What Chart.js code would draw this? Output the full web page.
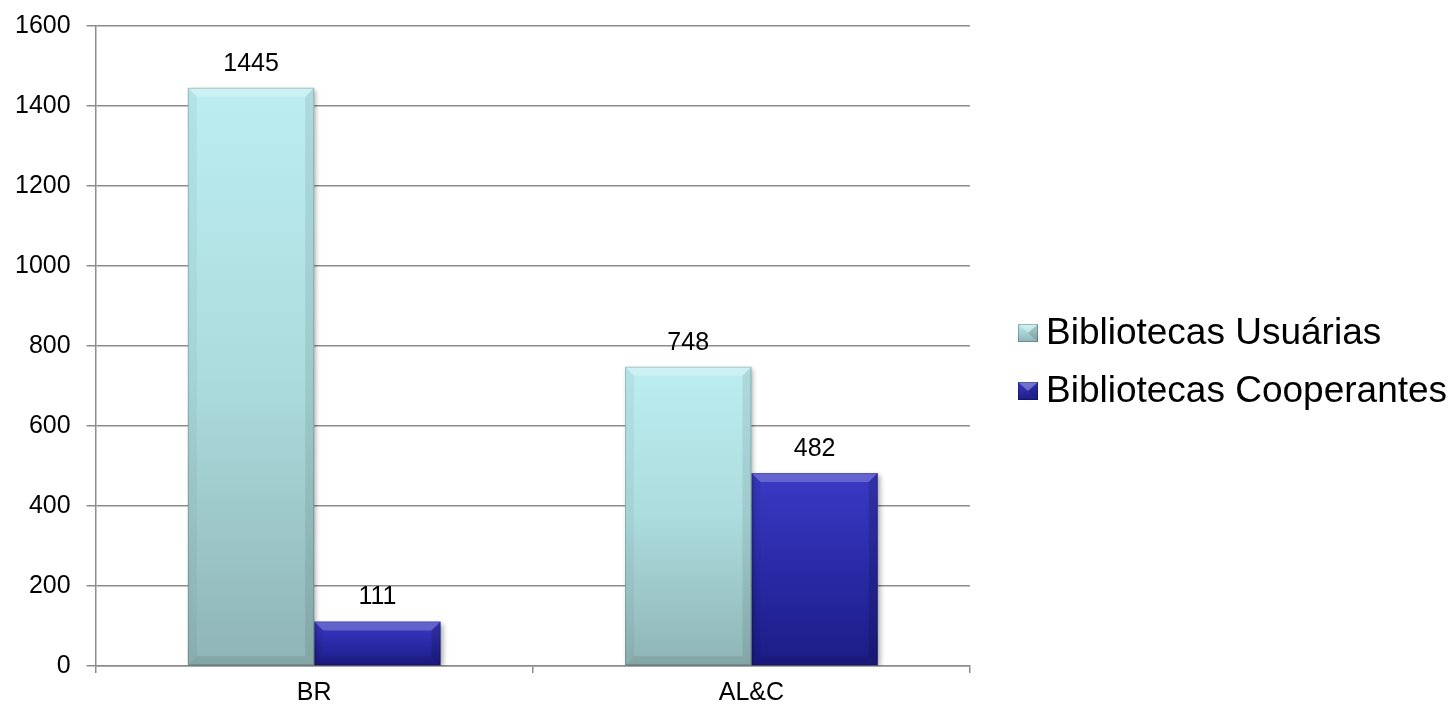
<!DOCTYPE html>
<html>
<head>
<meta charset="utf-8">
<script src="https://cdn.jsdelivr.net/npm/chart.js@4.4.1/dist/chart.umd.min.js"></script>
<style>
  html, body { margin: 0; padding: 0; background: #ffffff; }
  #wrap { width: 1456px; height: 709px; position: relative; }
</style>
</head>
<body>
<div id="wrap"><canvas id="c"></canvas></div>
<script>
// ---- data ----
const categories = ['BR', 'AL&C'];
const seriesNames = ['Bibliotecas Usuárias', 'Bibliotecas Cooperantes'];
const usuarias = [1445, 748];
const cooperantes = [111, 482];
const yTickMin = 0;
const yTickMax = 1600;
const yTickStep = 200;

// ---- styles ----
const FONT = '"Liberation Sans", Arial, sans-serif';
const GRID = '#8c8c8c';
const palettes = [
  { top: '#bcedf0', mid: '#acdcde', bottom: '#8fb4b5' },
  { top: '#3a3ac4', mid: '#2a2aa8', bottom: '#1c1c86' }
];

function barGradient(ctx, pal) {
  const chart = ctx.chart;
  const yScale = chart.scales.y;
  if (!yScale || ctx.raw === undefined) return pal.mid;
  const top = yScale.getPixelForValue(ctx.raw);
  const bottom = yScale.getPixelForValue(0);
  if (!isFinite(top) || !isFinite(bottom) || top === bottom) return pal.mid;
  const g = chart.ctx.createLinearGradient(0, top, 0, bottom);
  g.addColorStop(0, pal.top);
  g.addColorStop(0.5, pal.mid);
  g.addColorStop(1, pal.bottom);
  return g;
}

const shadowPlugin = {
  id: 'barShadow',
  beforeDatasetDraw(chart) {
    const c = chart.ctx;
    c.save();
    c.shadowColor = 'rgba(0,0,0,0.35)';
    c.shadowBlur = 5;
    c.shadowOffsetX = 2;
    c.shadowOffsetY = 2;
  },
  afterDatasetDraw(chart) {
    chart.ctx.restore();
  }
};

const bevelPlugin = {
  id: 'bevel',
  afterDatasetsDraw(chart) {
    const c = chart.ctx;
    chart.data.datasets.forEach((ds, di) => {
      const meta = chart.getDatasetMeta(di);
      const strong = di === 1;
      meta.data.forEach((el) => {
        const p = el.getProps(['x', 'y', 'base', 'width'], true);
        const l = p.x - p.width / 2, r = p.x + p.width / 2;
        const t = Math.min(p.y, p.base), b = Math.max(p.y, p.base);
        const s = Math.min(9, (b - t) / 2, p.width / 2);
        c.save();
        c.fillStyle = strong ? 'rgba(255,255,255,0.22)' : 'rgba(255,255,255,0.25)';
        c.beginPath();
        c.moveTo(l, t); c.lineTo(r, t); c.lineTo(r - s, t + s); c.lineTo(l + s, t + s); c.closePath();
        c.fill();
        c.fillStyle = 'rgba(0,0,0,0.04)';
        c.beginPath();
        c.moveTo(l, t); c.lineTo(l + s, t + s); c.lineTo(l + s, b - s); c.lineTo(l, b); c.closePath();
        c.fill();
        c.fillStyle = strong ? 'rgba(0,0,0,0.14)' : 'rgba(0,0,0,0.08)';
        c.beginPath();
        c.moveTo(r, t); c.lineTo(r - s, t + s); c.lineTo(r - s, b - s); c.lineTo(r, b); c.closePath();
        c.fill();
        c.fillStyle = 'rgba(0,0,0,0.08)';
        c.beginPath();
        c.moveTo(l, b); c.lineTo(l + s, b - s); c.lineTo(r - s, b - s); c.lineTo(r, b); c.closePath();
        c.fill();
        c.strokeStyle = 'rgba(0,0,0,0.18)';
        c.lineWidth = 1;
        c.strokeRect(l + 0.5, t + 0.5, p.width - 1, b - t - 1);
        c.restore();
      });
    });
  }
};

const labelPlugin = {
  id: 'valueLabels',
  afterDatasetsDraw(chart) {
    const c = chart.ctx;
    c.save();
    c.font = '25px ' + FONT;
    c.fillStyle = '#000000';
    c.textAlign = 'center';
    c.textBaseline = 'middle';
    chart.data.datasets.forEach((ds, di) => {
      const meta = chart.getDatasetMeta(di);
      meta.data.forEach((el, i) => {
        const p = el.getProps(['x', 'y'], true);
        c.fillText(String(ds.data[i]), p.x, p.y - 24);
      });
    });
    c.restore();
  }
};

const legendPlugin = {
  id: 'sideLegend',
  afterDraw(chart) {
    const c = chart.ctx;
    const area = chart.chartArea;
    const boxX = area.right + 48;
    const textX = boxX + 28;
    const centers = [333, 391];
    c.save();
    c.font = '37px ' + FONT;
    c.textAlign = 'left';
    c.textBaseline = 'middle';
    seriesNames.forEach((name, i) => {
      const cy = centers[i];
      const pal = palettes[i];
      const bw = 20, bh = 18;
      const bx = boxX, by = cy - bh / 2;
      const g = c.createLinearGradient(0, by, 0, by + bh);
      g.addColorStop(0, pal.top);
      g.addColorStop(1, pal.bottom);
      c.fillStyle = g;
      c.fillRect(bx, by, bw, bh);
      c.fillStyle = 'rgba(255,255,255,0.3)';
      c.beginPath();
      c.moveTo(bx, by); c.lineTo(bx + bw, by); c.lineTo(bx + bw / 2, by + bh / 2); c.closePath();
      c.fill();
      c.fillStyle = 'rgba(0,0,0,0.12)';
      c.beginPath();
      c.moveTo(bx + bw, by); c.lineTo(bx + bw, by + bh); c.lineTo(bx + bw / 2, by + bh / 2); c.closePath();
      c.fill();
      c.strokeStyle = 'rgba(0,0,0,0.25)';
      c.lineWidth = 1;
      c.strokeRect(bx + 0.5, by + 0.5, bw - 1, bh - 1);
      c.fillStyle = '#000000';
      c.fillText(name, textX, cy + 1);
    });
    c.restore();
  }
};

const yTickValues = [];
for (let v = yTickMin; v <= yTickMax; v += yTickStep) yTickValues.push(v);

new Chart(document.getElementById('c'), {
  type: 'bar',
  data: {
    labels: categories,
    datasets: [
      {
        label: seriesNames[0],
        data: usuarias,
        backgroundColor: (ctx) => barGradient(ctx, palettes[0]),
        borderWidth: 0,
        categoryPercentage: 0.578,
        barPercentage: 1.0
      },
      {
        label: seriesNames[1],
        data: cooperantes,
        backgroundColor: (ctx) => barGradient(ctx, palettes[1]),
        borderWidth: 0,
        categoryPercentage: 0.578,
        barPercentage: 1.0
      }
    ]
  },
  options: {
    responsive: true,
    maintainAspectRatio: false,
    animation: false,
    devicePixelRatio: 1,
    layout: { padding: { left: -1, right: 486, top: 0, bottom: -4 } },
    plugins: {
      legend: { display: false },
      tooltip: { enabled: false }
    },
    scales: {
      x: {
        offset: true,
        grid: {
          display: true,
          offset: true,
          drawOnChartArea: false,
          drawTicks: true,
          tickLength: 7,
          color: GRID,
          lineWidth: 1.5
        },
        border: { display: true, color: GRID, width: 1.5 },
        ticks: {
          color: '#000000',
          font: { family: FONT, size: 25 },
          padding: 5
        }
      },
      y: {
        min: yTickMin,
        max: yTickMax,
        afterBuildTicks: (scale) => { scale.ticks = yTickValues.map(v => ({ value: v })); },
        grid: {
          color: GRID,
          lineWidth: 1.5,
          drawTicks: true,
          tickLength: 9
        },
        border: { display: true, color: GRID, width: 1.5 },
        ticks: {
          color: '#000000',
          font: { family: FONT, size: 25, lineHeight: 0.78 },
          padding: 16,
          callback: (v) => String(v)
        }
      }
    }
  },
  plugins: [shadowPlugin, bevelPlugin, labelPlugin, legendPlugin]
});
</script>
</body>
</html>
